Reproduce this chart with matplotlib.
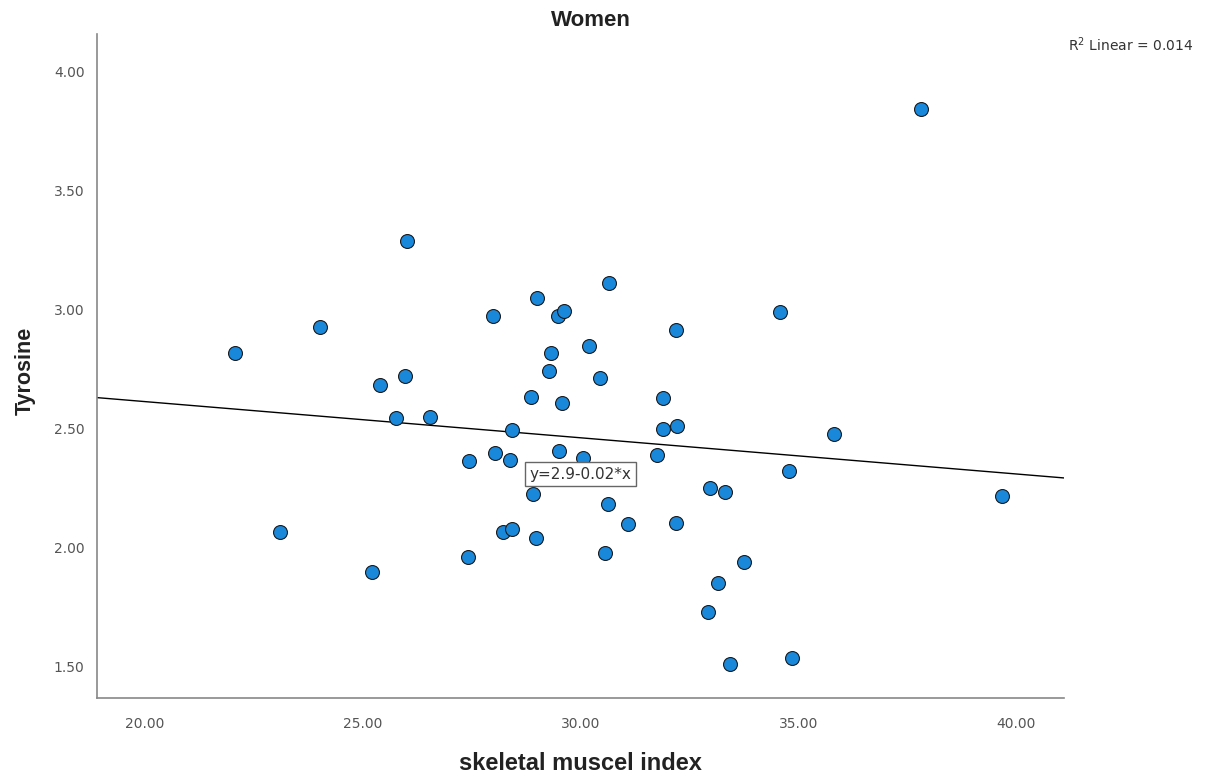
import numpy as np
import matplotlib.pyplot as plt

# skeletal muscle index (x) and tyrosine (y)
smi = np.array([22.07, 24.03, 25.40, 25.76, 25.96, 26.01, 23.10, 25.22,
                30.66, 29.01, 27.98, 29.48, 29.61, 34.58, 32.20, 30.20,
                29.32, 29.28, 30.44, 28.86, 29.57, 31.90, 26.54, 28.43,
                31.89, 32.22, 34.79, 27.45, 28.04, 28.37, 29.51, 30.06,
                31.76, 28.92, 32.97, 33.32, 30.63, 31.08, 32.19, 28.21,
                28.43, 28.98, 27.42, 30.56, 33.75, 33.15, 32.93, 33.43,
                34.86, 37.82, 35.81, 39.67])
tyrosine = np.array([2.817, 2.924, 2.682, 2.546, 2.721, 3.287, 2.066, 1.896,
                     3.111, 3.048, 2.972, 2.972, 2.993, 2.988, 2.912, 2.848,
                     2.817, 2.740, 2.714, 2.631, 2.607, 2.627, 2.549, 2.493,
                     2.498, 2.511, 2.320, 2.364, 2.399, 2.366, 2.405, 2.378,
                     2.387, 2.227, 2.251, 2.234, 2.185, 2.099, 2.104, 2.064,
                     2.078, 2.040, 1.961, 1.978, 1.939, 1.851, 1.732, 1.513,
                     1.537, 3.842, 2.479, 2.217])

xticks = [20, 25, 30, 35, 40]
yticks = [1.5, 2.0, 2.5, 3.0, 3.5, 4.0]

plt.rcParams['font.family'] = 'DejaVu Sans'

fig = plt.figure(figsize=(12.05, 7.78), dpi=100)
ax = fig.add_axes([0.0805, 0.1028, 0.8025, 0.853])

ax.scatter(smi, tyrosine, s=100, color='#1a88da', edgecolor='#1a1a1a',
           linewidth=0.8, zorder=3)

# linear fit line across the whole x range
coef = np.polyfit(smi, tyrosine, 1)
xl = np.array([18.9, 41.1])
ax.plot(xl, np.polyval(coef, xl), color='black', lw=1.0, zorder=2)

ax.set_xlim(18.9, 41.1)
ax.set_ylim(1.369, 4.154)
ax.set_xticks(xticks)
ax.set_xticklabels([f'{v:.2f}' for v in xticks])
ax.set_yticks(yticks)
ax.set_yticklabels([f'{v:.2f}' for v in yticks])
ax.tick_params(length=0, labelsize=10, labelcolor='#555555')
ax.tick_params(axis='x', pad=14)
ax.tick_params(axis='y', pad=9)

for s in ['top', 'right']:
    ax.spines[s].set_visible(False)
for s in ['left', 'bottom']:
    ax.spines[s].set_color('#888888')
    ax.spines[s].set_linewidth(1.2)

ax.text(30.0, 2.308, 'y=2.9-0.02*x', fontsize=11, color='#333333',
        ha='center', va='center', zorder=4,
        bbox=dict(boxstyle='square,pad=0.3', fc='white', ec='#666666', lw=1))

fig.text(591 / 1205, 1 - 20 / 778, 'Women', ha='center', va='center',
         fontsize=16, fontweight='bold', family='Liberation Sans', color='#222222')
fig.text(580 / 1205, 1 - 764 / 778, 'skeletal muscel index', ha='center',
         va='center', fontsize=17, fontweight='bold', family='Liberation Sans',
         color='#222222')
fig.text(25 / 1205, 1 - 371 / 778, 'Tyrosine', ha='center', va='center',
         rotation=90, fontsize=15.5, fontweight='bold', family='Liberation Sans',
         color='#222222')
fig.text(1193 / 1205, 1 - 45 / 778, 'R$^2$ Linear = 0.014', ha='right',
         va='center', fontsize=10, color='#333333')

fig.savefig('out.png', dpi=100)
